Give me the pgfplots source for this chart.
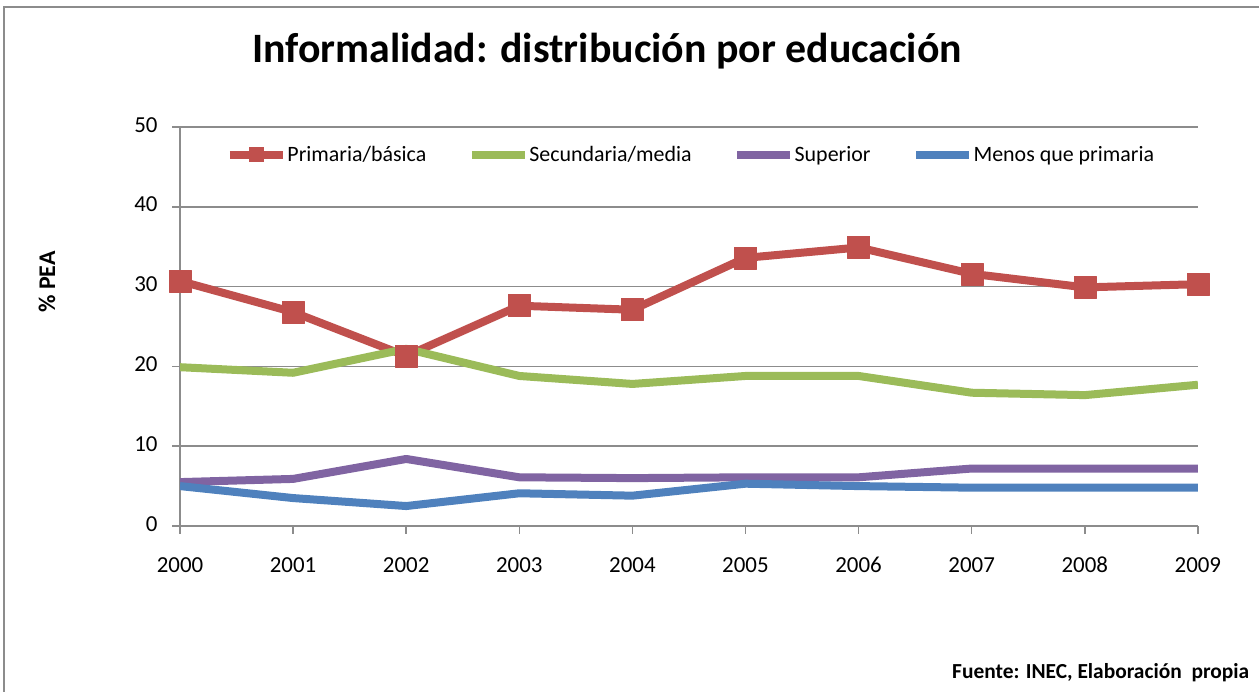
\documentclass[border=0pt]{standalone}
\usepackage{pgfplots}
\pgfplotsset{compat=1.18}
\usepackage{fontspec}
\setmainfont{Carlito}

\definecolor{cRed}{HTML}{C0504D}
\definecolor{cGreen}{HTML}{9BBB59}
\definecolor{cPurple}{HTML}{8064A2}
\definecolor{cBlue}{HTML}{4F81BD}
\definecolor{cGrid}{HTML}{8C8C8C}

\begin{document}
\begin{tikzpicture}[x=1bp,y=1bp]
\path[use as bounding box] (0,0) rectangle (1259,692);
% outer frame of the chart area
\draw[cGrid, line width=1.5bp] (4,0) -- (4,685) -- (1262,685);

\node[font=\fontsize{42}{46}\selectfont\bfseries] at (607,641) {Informalidad: distribución por educación};
\node[font=\fontsize{24}{28}\selectfont\bfseries, rotate=90] at (47,410) {\% PEA};
\node[font=\fontsize{21.5}{26}\selectfont\bfseries, anchor=west, inner sep=0pt] at (952,19) {Fuente: INEC, Elaboración\ \ propia};

\begin{axis}[
    at={(180bp,166bp)}, anchor=south west,
    scale only axis, width=1018bp, height=399bp,
    xmin=2000, xmax=2009, ymin=0, ymax=50,
    xtick={2000,...,2009},
    xticklabels={2000,2001,2002,2003,2004,2005,2006,2007,2008,2009},
    ytick={0,10,20,30,40,50},
    axis x line*=bottom, axis y line*=left,
    axis line style={cGrid, line width=2bp, -},
    tick style={cGrid, line width=1.5bp},
    tick align=outside, major tick length=8bp,
    ymajorgrids, grid style={cGrid, line width=1.5bp},
    /pgf/number format/assume math mode=true,
    typeset ticklabels with strut,
    tick label style={font=\fontsize{23}{26}\selectfont, text=black},
    xticklabel style={yshift=-17bp},
    yticklabel style={xshift=-11bp},
    legend columns=4,
    legend style={
        at={(axis description cs:0.042,0.93)}, anchor=west,
        draw=none, fill=none,
        font=\fontsize{22}{26}\selectfont,
        nodes={inner xsep=0.5bp, inner ysep=2bp},
        /tikz/every even column/.append style={column sep=41bp},
    },
    legend image code/.code={
        \draw[#1, mark=none] (0bp,0bp) -- (53bp,0bp);
        \draw[#1, draw opacity=0, mark size=7.5bp] plot coordinates {(26.5bp,0bp)};
    },
    every axis plot/.append style={line width=8bp, line join=round},
]
\addplot[cRed, mark=square*, mark size=11bp, mark options={solid, line width=0.5bp}] coordinates {
(2000,30.7) (2001,26.8) (2002,21.3) (2003,27.6) (2004,27.1)
(2005,33.6) (2006,34.9) (2007,31.6) (2008,29.9) (2009,30.3)};
\addlegendentry{Primaria/básica}
\addplot[cGreen] coordinates {
(2000,19.9) (2001,19.2) (2002,22.2) (2003,18.8) (2004,17.8)
(2005,18.8) (2006,18.8) (2007,16.7) (2008,16.4) (2009,17.7)};
\addlegendentry{Secundaria/media}
\addplot[cPurple] coordinates {
(2000,5.5) (2001,5.9) (2002,8.4) (2003,6.1) (2004,6.0)
(2005,6.1) (2006,6.1) (2007,7.2) (2008,7.2) (2009,7.2)};
\addlegendentry{Superior}
\addplot[cBlue] coordinates {
(2000,5.0) (2001,3.5) (2002,2.5) (2003,4.1) (2004,3.8)
(2005,5.3) (2006,5.0) (2007,4.8) (2008,4.8) (2009,4.8)};
\addlegendentry{Menos que primaria}
\end{axis}
\end{tikzpicture}
\end{document}
